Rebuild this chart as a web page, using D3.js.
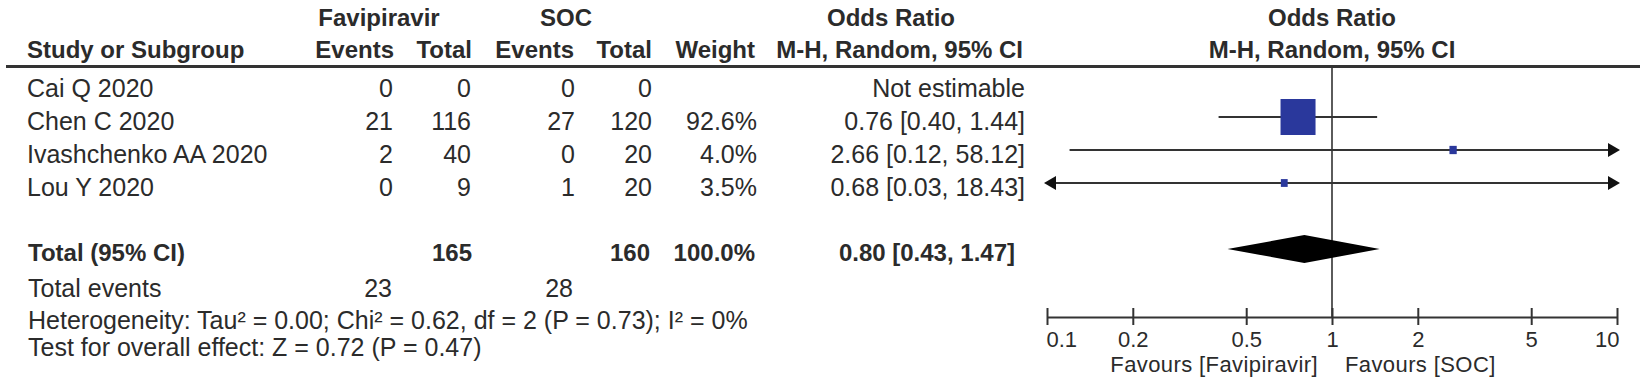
<!DOCTYPE html>
<html>
<head>
<meta charset="utf-8">
<script src="https://cdn.jsdelivr.net/npm/d3@7"></script>
<style>
  html, body { margin: 0; padding: 0; background: #fff; }
  svg { display: block; font-family: "Liberation Sans", Arial, sans-serif; }
</style>
</head>
<body>
<svg id="chart" width="1645" height="385"></svg>
<script>
// ---------------- data ----------------
const studies     = ["Cai Q 2020", "Chen C 2020", "Ivashchenko AA 2020", "Lou Y 2020"];
const favEvents   = [0, 21, 2, 0];
const favTotal    = [0, 116, 40, 9];
const socEvents   = [0, 27, 0, 1];
const socTotal    = [0, 120, 20, 20];
const weights     = [null, 92.6, 4.0, 3.5];
const oddsRatio   = [null, 0.76, 2.66, 0.68];
const ciLow       = [null, 0.40, 0.12, 0.03];
const ciHigh      = [null, 1.44, 58.12, 18.43];

const totalLabel  = "Total (95% CI)";
const totalFav    = 165;
const totalSoc    = 160;
const totalWeight = "100.0%";
const pooledOR    = [0.80, 0.43, 1.47];   // estimate, low, high
const eventsFav   = 23;
const eventsSoc   = 28;
const heterogeneityText = "Heterogeneity: Tau² = 0.00; Chi² = 0.62, df = 2 (P = 0.73); I² = 0%";
const overallText = "Test for overall effect: Z = 0.72 (P = 0.47)";

const tickValues  = [0.1, 0.2, 0.5, 1, 2, 5, 10];
const tickLabels  = ["0.1", "0.2", "0.5", "1", "2", "5", "10"];
const favoursLeft  = "Favours [Favipiravir]";
const favoursRight = "Favours [SOC]";

// ---------------- layout ----------------
const svg = d3.select("#chart");
const ink = "#2b2b2b";
const REG = 25, BOLD = 24;

// column right edges
const colFavE = 393, colFavT = 471, colSocE = 575, colSocT = 652, colW = 757, colOR = 1025;

const x = d3.scaleLog().domain([0.1, 10]).range([1047, 1617]);
const rowY = d3.scalePoint().domain(d3.range(studies.length)).range([84, 183]);
const side = d3.scaleSqrt().domain([0, 92.6]).range([0, 35]);

function txt(s, px, py, opt = {}) {
  return svg.append("text")
    .attr("x", px).attr("y", py)
    .attr("text-anchor", opt.anchor || "start")
    .attr("font-size", opt.size || REG)
    .attr("font-weight", opt.bold ? "bold" : "normal")
    .attr("fill", ink)
    .text(s);
}

// header
txt("Favipiravir", 379, 26, {anchor: "middle", bold: true, size: BOLD});
txt("SOC", 566, 26, {anchor: "middle", bold: true, size: BOLD});
txt("Odds Ratio", 891, 26, {anchor: "middle", bold: true, size: BOLD});
txt("Odds Ratio", x(1), 26, {anchor: "middle", bold: true, size: BOLD});

txt("Study or Subgroup", 27, 58, {bold: true, size: BOLD});
txt("Events", colFavE + 1, 58, {anchor: "end", bold: true, size: BOLD});
txt("Total", colFavT + 1, 58, {anchor: "end", bold: true, size: BOLD});
txt("Events", colSocE - 1, 58, {anchor: "end", bold: true, size: BOLD});
txt("Total", colSocT, 58, {anchor: "end", bold: true, size: BOLD});
txt("Weight", colW - 2, 58, {anchor: "end", bold: true, size: BOLD});
txt("M-H, Random, 95% CI", colOR - 2, 58, {anchor: "end", bold: true, size: BOLD});
txt("M-H, Random, 95% CI", x(1), 58, {anchor: "middle", bold: true, size: BOLD});

svg.append("line").attr("x1", 6).attr("x2", 1640).attr("y1", 66.5).attr("y2", 66.5)
  .attr("stroke", "#333").attr("stroke-width", 3);

// vertical line of no effect
svg.append("line").attr("x1", x(1)).attr("x2", x(1)).attr("y1", 68).attr("y2", 317)
  .attr("stroke", "#333").attr("stroke-width", 1.6);

// study rows
const fmt2 = d3.format(".2f");
studies.forEach((s, i) => {
  const yb = rowY(i) + 12.5;
  txt(s, 27, yb);
  txt(favEvents[i], colFavE, yb, {anchor: "end"});
  txt(favTotal[i], colFavT, yb, {anchor: "end"});
  txt(socEvents[i], colSocE, yb, {anchor: "end"});
  txt(socTotal[i], colSocT, yb, {anchor: "end"});
  if (weights[i] != null) txt(d3.format(".1f")(weights[i]) + "%", colW, yb, {anchor: "end"});
  if (oddsRatio[i] == null) {
    txt("Not estimable", colOR, yb, {anchor: "end"});
  } else {
    txt(`${fmt2(oddsRatio[i])} [${fmt2(ciLow[i])}, ${fmt2(ciHigh[i])}]`, colOR, yb, {anchor: "end"});
  }
});

// CI lines, arrows and squares
const [dMin, dMax] = x.domain();
studies.forEach((s, i) => {
  if (oddsRatio[i] == null) return;
  const yc = rowY(i);
  const clipL = ciLow[i] < dMin, clipR = ciHigh[i] > dMax;
  const x1 = clipL ? x(dMin) - 3 : x(ciLow[i]);
  const x2 = clipR ? x(dMax) + 3 : x(ciHigh[i]);
  svg.append("line").attr("x1", x1 + (clipL ? 8 : 0)).attr("x2", x2 - (clipR ? 8 : 0))
    .attr("y1", yc).attr("y2", yc)
    .attr("stroke", "#333").attr("stroke-width", 2.2);
  if (clipR) {
    svg.append("path").attr("d", `M${x2},${yc} L${x2 - 12},${yc - 7} L${x2 - 12},${yc + 7} Z`).attr("fill", "#111");
  }
  if (clipL) {
    svg.append("path").attr("d", `M${x1},${yc} L${x1 + 12},${yc - 7} L${x1 + 12},${yc + 7} Z`).attr("fill", "#111");
  }
  const sz = side(weights[i]);
  svg.append("rect")
    .attr("x", x(oddsRatio[i]) - sz / 2).attr("y", yc - sz / 2 - 0.5)
    .attr("width", sz).attr("height", sz + 1)
    .attr("fill", "#2a389c");
});

// total row
const yTot = 249;
txt(totalLabel, 28, 261, {bold: true, size: BOLD});
txt(totalFav, colFavT + 1, 261, {anchor: "end", bold: true, size: BOLD});
txt(totalSoc, colSocT - 2, 261, {anchor: "end", bold: true, size: BOLD});
txt(totalWeight, colW - 2, 261, {anchor: "end", bold: true, size: BOLD});
txt(`${fmt2(pooledOR[0])} [${fmt2(pooledOR[1])}, ${fmt2(pooledOR[2])}]`, 1015, 261, {anchor: "end", bold: true, size: BOLD});

svg.append("path")
  .attr("d", `M${x(pooledOR[1])},${yTot} L${x(pooledOR[0])},${yTot - 14} L${x(pooledOR[2])},${yTot} L${x(pooledOR[0])},${yTot + 14} Z`)
  .attr("fill", "#000");

txt("Total events", 28, 297);
txt(eventsFav, colFavE - 1, 297, {anchor: "end"});
txt(eventsSoc, colSocE - 2, 297, {anchor: "end"});
txt(heterogeneityText, 28, 329);
txt(overallText, 28, 356);

// axis
const axisY = 317;
const axis = d3.axisBottom(x).tickValues(tickValues).tickSize(0).tickFormat("");
const gA = svg.append("g").attr("transform", `translate(0,${axisY})`).call(axis);
gA.select(".domain").attr("stroke", "#333").attr("stroke-width", 2.2);
gA.selectAll(".tick").append("line").attr("y1", -9).attr("y2", 8).attr("stroke", "#333").attr("stroke-width", 2);
gA.selectAll(".tick").append("text")
  .attr("y", 30).attr("fill", ink).attr("font-size", 22)
  .attr("text-anchor", (d, i) => i === 0 ? "start" : (i === tickValues.length - 1 ? "end" : "middle"))
  .attr("x", (d, i) => i === 0 ? -1 : (i === tickValues.length - 1 ? 2 : 0))
  .text((d, i) => tickLabels[i]);

txt(favoursLeft, x(1) - 14, 372, {anchor: "end", size: 22}).attr("letter-spacing", 0.4);
txt(favoursRight, x(1) + 13, 372, {size: 22}).attr("letter-spacing", 0.4);
</script>
</body>
</html>
